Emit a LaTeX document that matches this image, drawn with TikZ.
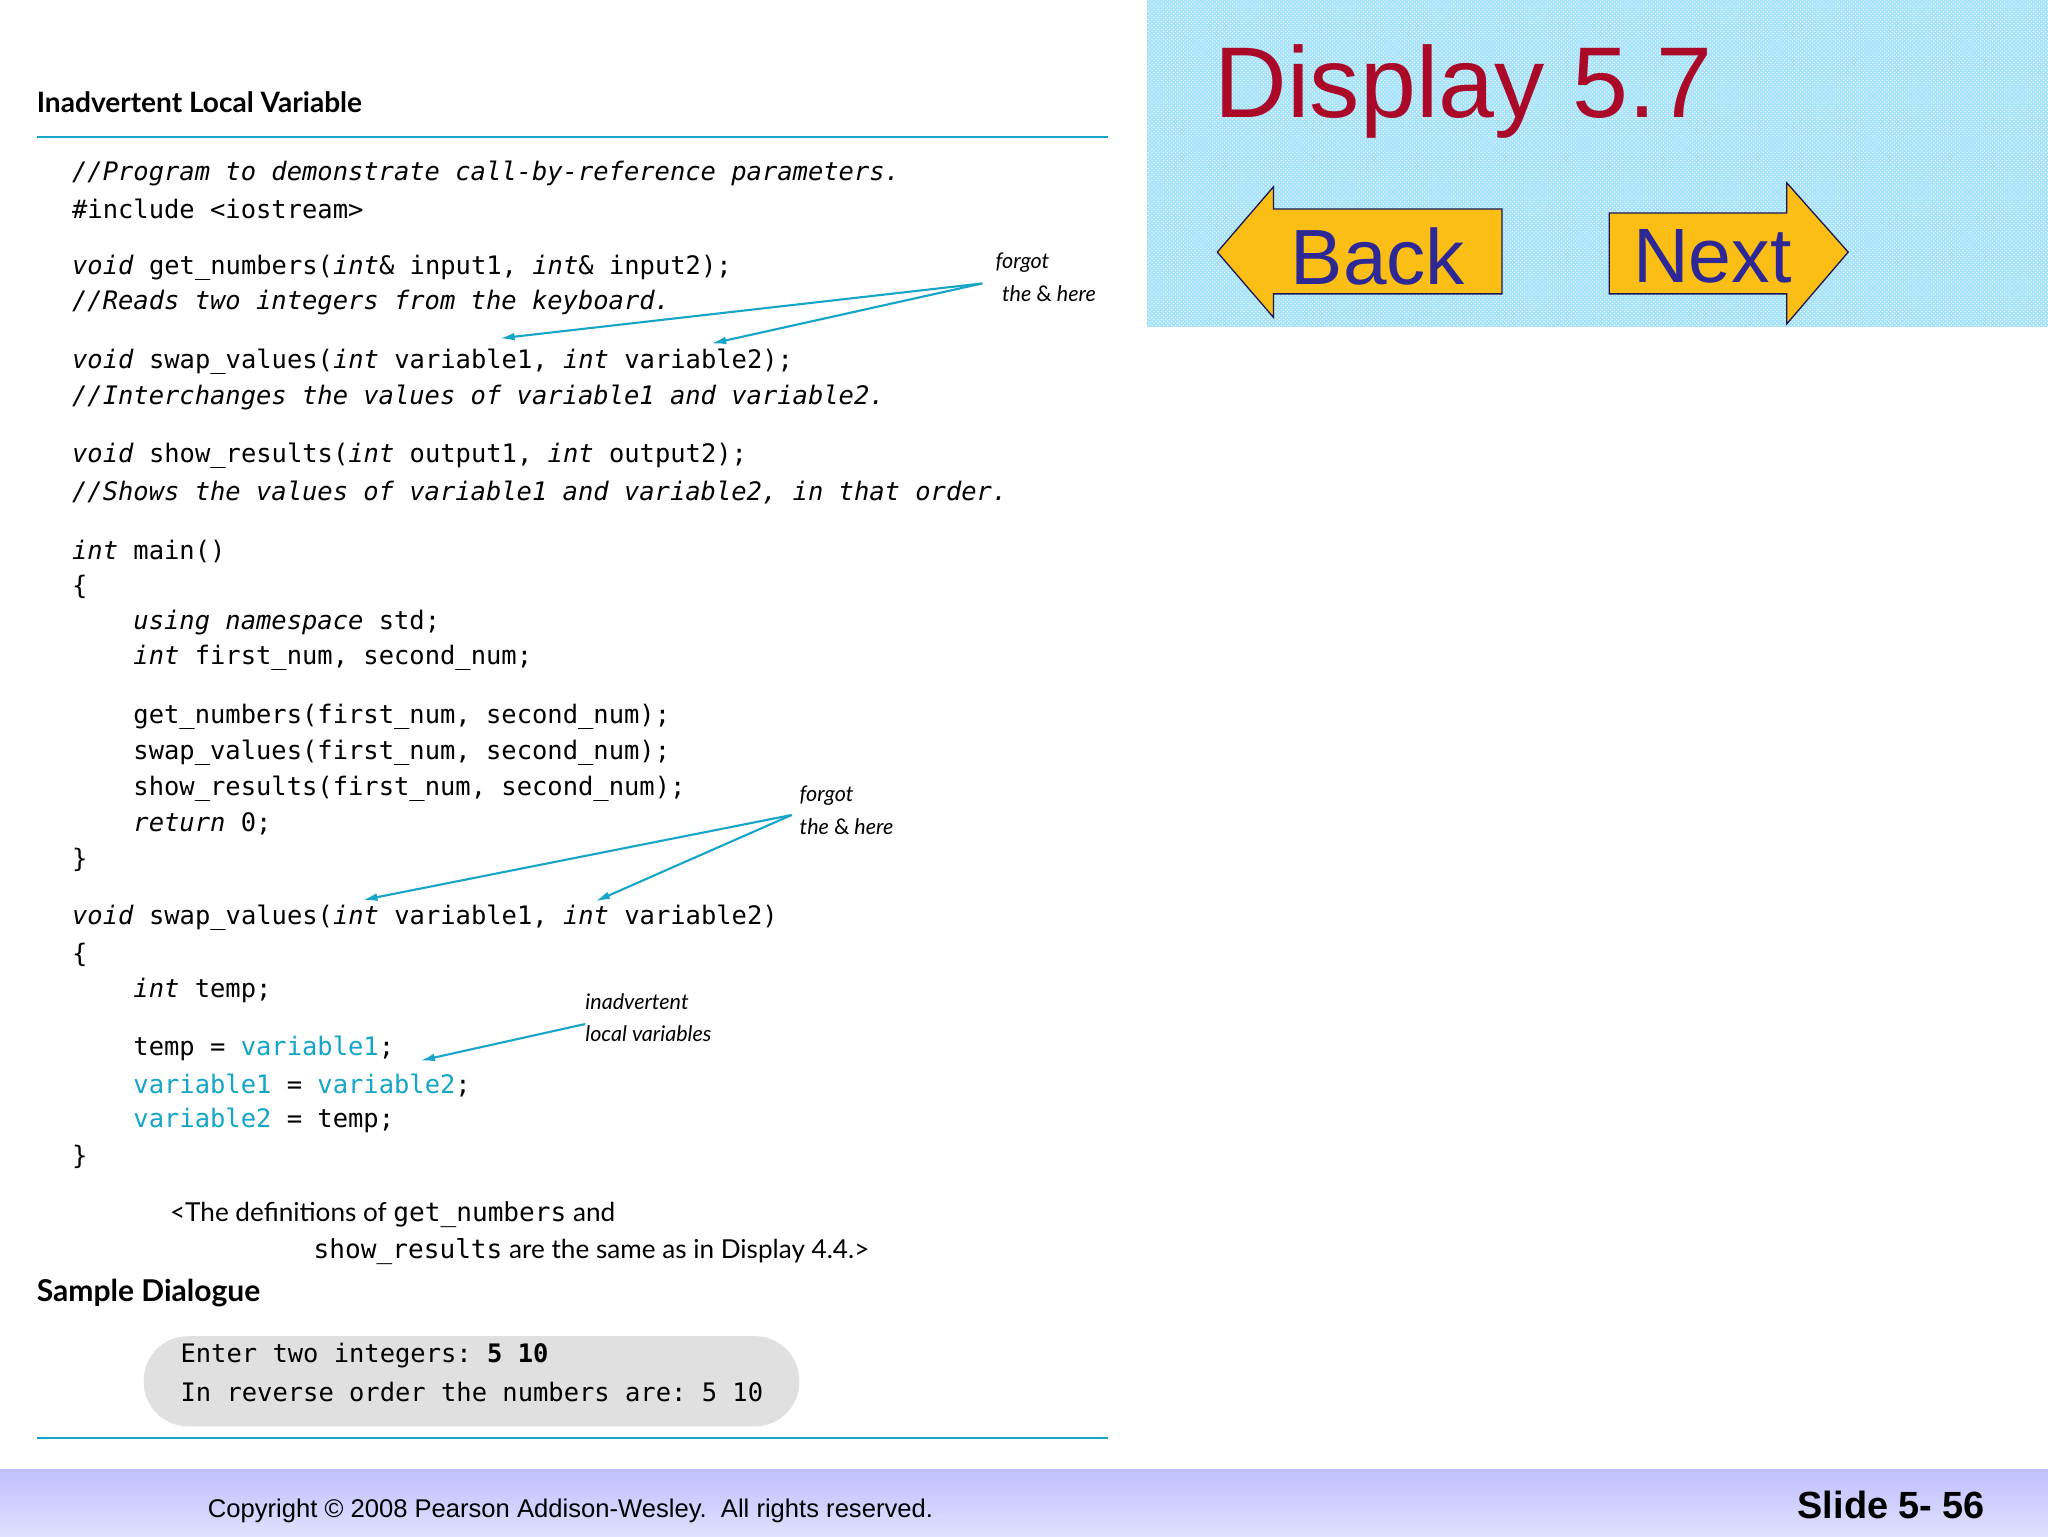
\documentclass[tikz,border=0pt]{standalone}
\usepackage{fontspec}
\setmainfont{Liberation Sans}
\setsansfont{Lato}
\setmonofont{DejaVu Sans Mono}
\usetikzlibrary{patterns,arrows.meta}
\definecolor{cy}{RGB}{20,165,200}
\definecolor{dred}{RGB}{170,10,40}
\definecolor{navy}{RGB}{45,40,150}
\definecolor{ayel}{RGB}{250,190,20}
\begin{document}
\begin{tikzpicture}[x=1pt,y=-1pt,
 code/.style={anchor=west,inner sep=0pt,font=\fontsize{19.5}{19.5}\ttfamily},
 note/.style={anchor=west,inner sep=0pt,font=\fontsize{16.5}{16.5}\sffamily\itshape},
 carrow/.style={cy,line width=1.6pt,-{Latex[length=11pt,width=6pt]}},
 navarrow/.style={draw=navy!60!black,fill=ayel,line width=1pt,line join=miter}]
\useasboundingbox (0,0) rectangle (1568,1176);
\fill[white] (0,0) rectangle (1568,1176);
% top right panel
\fill[cyan!35] (878,0) rectangle (1568,250);
\fill[pattern=crosshatch dots,pattern color=white] (878,0) rectangle (1568,250);
\node[anchor=west,inner sep=0pt,text=dred,font=\fontsize{77}{77}\selectfont] (disp) at (930,70) {Display 5.7};
\draw[navarrow] (932,193) -- (975,143) -- (975,160) -- (1150,160) -- (1150,225) -- (975,225) -- (975,243) -- cycle;
\node[anchor=center,text=navy,font=\fontsize{60}{60}\selectfont] (backt) at (1055,196) {Back};
\draw[navarrow] (1232,163) -- (1368,163) -- (1368,140) -- (1415,193) -- (1368,248) -- (1368,225) -- (1232,225) -- cycle;
\node[anchor=center,text=navy,font=\fontsize{59}{59}\selectfont] (nextt) at (1311,196) {Next};
% bottom bar
\shade[top color=blue!25!white,bottom color=blue!12!white] (0,1125) rectangle (1568,1176);
\node[anchor=west,inner sep=0pt,font=\fontsize{19.6}{19.6}\selectfont] (copy) at (159,1157) {Copyright \textcopyright{} 2008 Pearson Addison-Wesley.\ \ All rights reserved.};
\node[anchor=east,inner sep=0pt,font=\fontsize{29}{29}\bfseries] (slide) at (1520,1152) {Slide 5- 56};
% title and rules
\node[anchor=west,inner sep=0pt,font=\fontsize{21.5}{21.5}\sffamily\bfseries] (title) at (28,78) {Inadvertent Local Variable};
\draw[cy,line width=1pt] (28,105) -- (848,105);
\draw[cy,line width=1pt] (28,1101) -- (848,1101);
% code
\node[code] (l1) at (55,133) {\itshape //Program to demonstrate call-by-reference parameters.};
\node[code] (l2) at (55,160) {\#include <iostream>};
\node[code] (l3) at (55,205) {\textit{void} get\_numbers(\textit{int}\& input1, \textit{int}\& input2);};
\node[code] (l4) at (55,232) {\itshape //Reads two integers from the keyboard.};
\node[code] (l5) at (55,277) {\textit{void} swap\_values(\textit{int} variable1, \textit{int} variable2);};
\node[code] (l6) at (55,304) {\itshape //Interchanges the values of variable1 and variable2.};
\node[code] (l7) at (55,349) {\textit{void} show\_results(\textit{int} output1, \textit{int} output2);};
\node[code] (l8) at (55,377) {\itshape //Shows the values of variable1 and variable2, in that order.};
\node[code] (l9) at (55,422) {\textit{int} main()};
\node[code] (l10) at (55,449) {\{};
\node[code] (l11) at (102,477) {\textit{using namespace} std;};
\node[code] (l12) at (102,504) {\textit{int} first\_num, second\_num;};
\node[code] (l13) at (102,549) {get\_numbers(first\_num, second\_num);};
\node[code] (l14) at (102,576) {swap\_values(first\_num, second\_num);};
\node[code] (l15) at (102,604) {show\_results(first\_num, second\_num);};
\node[code] (l16) at (102,631) {\textit{return} 0;};
\node[code] (l17) at (55,658) {\}};
\node[code] (l18) at (55,703) {\textit{void} swap\_values(\textit{int} variable1, \textit{int} variable2)};
\node[code] (l19) at (55,731) {\{};
\node[code] (l20) at (102,758) {\textit{int} temp;};
\node[code] (l21) at (102,803) {temp = \textcolor{cy}{variable1};};
\node[code] (l22) at (102,831) {\textcolor{cy}{variable1} = \textcolor{cy}{variable2};};
\node[code] (l23) at (102,858) {\textcolor{cy}{variable2} = temp;};
\node[code] (l24) at (55,886) {\}};
% notes
\node[note] (n1a) at (762,201) {forgot};
\node[note] (n1b) at (767,225) {the \textup{\&} here};
\coordinate (n1) at (752,217);
\coordinate (t1a) at (383,259);
\coordinate (t1b) at (545,263);
\draw[carrow] (n1) -- (t1a);
\draw[carrow] (n1) -- (t1b);
\node[note] (n2a) at (612,609) {forgot};
\node[note] (n2b) at (612,633) {the \textup{\&} here};
\coordinate (n2) at (606,624);
\coordinate (t2a) at (278,689);
\coordinate (t2b) at (456,690);
\draw[carrow] (n2) -- (t2a);
\draw[carrow] (n2) -- (t2b);
\node[note] (n3a) at (448,767) {inadvertent};
\node[note] (n3b) at (448,791) {local variables};
\coordinate (n3) at (448,784);
\coordinate (t3) at (322,812);
\draw[carrow] (n3) -- (t3);
% footnote
\node[anchor=west,inner sep=0pt,font=\fontsize{20}{20}\sffamily] (f1) at (130,930) {<The definitions of \texttt{get\_numbers} and};
\node[anchor=west,inner sep=0pt,font=\fontsize{20}{20}\sffamily] (f2) at (240,958) {\texttt{show\_results} are the same as in Display 4.4.>};
\node[anchor=west,inner sep=0pt,font=\fontsize{23}{23}\sffamily\bfseries] (sd) at (28,990) {Sample Dialogue};
\fill[black!12,rounded corners=34pt] (110,1023) rectangle (612,1092);
\node[code] (d1) at (138,1038) {Enter two integers: \textbf{5 10}};
\node[code] (d2) at (138,1066) {In reverse order the numbers are: 5 10};
\end{tikzpicture}
\end{document}
